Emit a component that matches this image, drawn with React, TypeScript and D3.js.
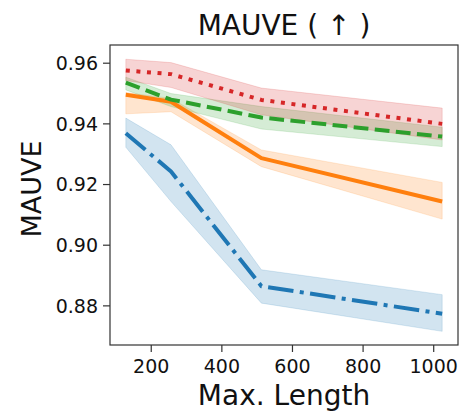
import * as d3 from "d3";

// Max. Length values on the x axis
const lengths = [128, 256, 512, 1024];

// mean MAUVE and band (lower / upper) for each run
const blueMean = [0.9369, 0.9243, 0.8865, 0.8774];
const blueLow = [0.9323, 0.9144, 0.8809, 0.8716];
const blueHigh = [0.9419, 0.9331, 0.8919, 0.8837];

const orangeMean = [0.9496, 0.9473, 0.9287, 0.9144];
const orangeLow = [0.9433, 0.9440, 0.9259, 0.9086];
const orangeHigh = [0.9503, 0.9484, 0.9314, 0.9207];

const greenMean = [0.9536, 0.9480, 0.9421, 0.9358];
const greenLow = [0.9512, 0.9457, 0.9383, 0.9325];
const greenHigh = [0.9554, 0.9500, 0.9457, 0.9389];

const redMean = [0.9576, 0.9564, 0.9479, 0.9400];
const redLow = [0.9543, 0.9520, 0.9430, 0.9347];
const redHigh = [0.9613, 0.9602, 0.9518, 0.9452];

const xTicks = [200, 400, 600, 800, 1000];
const yTicks = [0.88, 0.9, 0.92, 0.94, 0.96];

const series = [
  { color: "#1f77b4", mean: blueMean, low: blueLow, high: blueHigh, dash: "25.6,6.4,4,6.4" },
  { color: "#ff7f0e", mean: orangeMean, low: orangeLow, high: orangeHigh, dash: "none" },
  { color: "#2ca02c", mean: greenMean, low: greenLow, high: greenHigh, dash: "14.8,6.4" },
  { color: "#d62728", mean: redMean, low: redLow, high: redHigh, dash: "4,6.6" },
];

const W = 461;
const H = 411;
const plot = { left: 110, right: 458, top: 45, bottom: 345 };
const font = "DejaVu Sans, sans-serif";

export default function App() {
  const x = d3.scaleLinear().domain([83.2, 1068.8]).range([plot.left, plot.right]);
  const y = d3.scaleLinear().domain([0.8671, 0.966]).range([plot.bottom, plot.top]);

  const line = d3
    .line<number>()
    .x((d, i) => x(lengths[i]))
    .y(d => y(d));

  // band between low and high
  const band = (low: number[], high: number[]) =>
    d3
      .area<number>()
      .x((d, i) => x(lengths[i]))
      .y0((d, i) => y(low[i]))
      .y1((d, i) => y(high[i]))(lengths);

  const cx = (plot.left + plot.right) / 2;
  const cy = (plot.top + plot.bottom) / 2;

  return (
    <svg
      width={W}
      height={H}
      style={{ position: "absolute", left: 0, top: 0, background: "#fff" }}
      fontFamily={font}
    >
      <defs>
        <clipPath id="plot-clip">
          <rect x={plot.left} y={plot.top} width={plot.right - plot.left} height={plot.bottom - plot.top} />
        </clipPath>
      </defs>

      <g clipPath="url(#plot-clip)">
        {series.map((s, i) => (
          <path key={"b" + i} d={band(s.low, s.high) || ""} fill={s.color} fillOpacity={0.2} stroke={s.color} strokeOpacity={0.2} strokeWidth={0.8} />
        ))}
        {series.map((s, i) => (
          <path
            key={"l" + i}
            d={line(s.mean) || ""}
            fill="none"
            stroke={s.color}
            strokeWidth={4}
            strokeDasharray={s.dash}
            strokeLinejoin="round"
          />
        ))}
      </g>

      {/* frame */}
      <rect
        x={plot.left}
        y={plot.top}
        width={plot.right - plot.left}
        height={plot.bottom - plot.top}
        fill="none"
        stroke="#333"
        strokeWidth={1.2}
      />

      {/* x axis */}
      {xTicks.map(t => (
        <g key={"x" + t} transform={`translate(${x(t)},${plot.bottom})`}>
          <line y2={7} stroke="#333" strokeWidth={1.2} />
          <text y={28} textAnchor="middle" fontSize={19} fill="#111">
            {t}
          </text>
        </g>
      ))}
      <text x={cx} y={405} textAnchor="middle" fontSize={28} fill="#111">
        Max. Length
      </text>

      {/* y axis */}
      {yTicks.map(t => (
        <g key={"y" + t} transform={`translate(${plot.left},${y(t)})`}>
          <line x2={-7} stroke="#333" strokeWidth={1.2} />
          <text x={-12} dy="0.35em" textAnchor="end" fontSize={19} fill="#111">
            {d3.format(".2f")(t)}
          </text>
        </g>
      ))}
      <text
        transform={`translate(41,${cy - 6}) rotate(-90)`}
        textAnchor="middle"
        fontSize={27}
        fill="#111"
      >
        MAUVE
      </text>

      {/* title */}
      <text x={cx} y={35} textAnchor="middle" fontSize={28} fill="#111">
        MAUVE ( ↑ )
      </text>
    </svg>
  );
}
